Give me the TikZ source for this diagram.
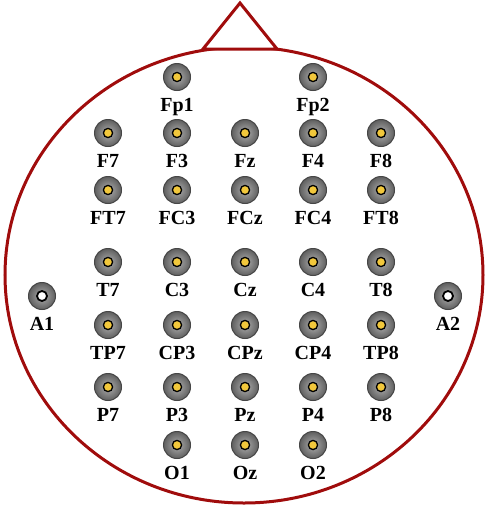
\documentclass[tikz,border=0pt]{standalone}
\usepackage{fontspec}
\setmainfont{Liberation Serif}
\definecolor{headred}{RGB}{160,12,12}
\definecolor{elecin}{RGB}{175,175,175}
\definecolor{elecout}{RGB}{95,95,95}
\definecolor{elecrim}{RGB}{70,70,70}
\definecolor{dotyellow}{RGB}{242,200,60}
\tikzset{
  electrode/.style={circle, minimum size=27pt, inner sep=0pt, draw=elecrim, line width=1pt,
    shading=radial, inner color=elecin, outer color=elecout,
    path picture={\fill[dotyellow, draw=black, line width=1.3pt] (path picture bounding box.center) circle (4.6pt);}},
  earelec/.style={circle, minimum size=27pt, inner sep=0pt, draw=elecrim, line width=1pt,
    shading=radial, inner color=elecin, outer color=elecout,
    path picture={\fill[white, draw=black, line width=1.8pt] (path picture bounding box.center) circle (5pt);}},
  lbl/.style={anchor=base, inner sep=0pt, font=\fontsize{20}{20}\selectfont\bfseries},
  headline/.style={draw=headred, line width=3pt}
}
\newcommand\elec[4]{\node[electrode] (#1) at (#2,#3) {}; \node[lbl] (#1-l) at (#2,#3+34.5) {#4};}
\begin{document}
\begin{tikzpicture}[x=1pt,y=-1pt]
\useasboundingbox (0,0) rectangle (490,509);
% head
\draw[headline] (244,275) ellipse [x radius=239, y radius=228];
\draw[headline, fill=white, line join=miter] (203,49) -- (240,3) -- (277,49) -- cycle;
% rows
\elec{Fp1}{177}{77}{Fp1}
\elec{Fp2}{313}{77}{Fp2}
\elec{F7}{108}{133}{F7}
\elec{F3}{177}{133}{F3}
\elec{Fz}{245}{133}{Fz}
\elec{F4}{313}{133}{F4}
\elec{F8}{381}{133}{F8}
\elec{FT7}{108}{190}{FT7}
\elec{FC3}{177}{190}{FC3}
\elec{FCz}{245}{190}{FCz}
\elec{FC4}{313}{190}{FC4}
\elec{FT8}{381}{190}{FT8}
\elec{T7}{108}{262}{T7}
\elec{C3}{177}{262}{C3}
\elec{Cz}{245}{262}{Cz}
\elec{C4}{313}{262}{C4}
\elec{T8}{381}{262}{T8}
\elec{TP7}{108}{325}{TP7}
\elec{CP3}{177}{325}{CP3}
\elec{CPz}{245}{325}{CPz}
\elec{CP4}{313}{325}{CP4}
\elec{TP8}{381}{325}{TP8}
\elec{P7}{108}{387}{P7}
\elec{P3}{177}{387}{P3}
\elec{Pz}{245}{387}{Pz}
\elec{P4}{313}{387}{P4}
\elec{P8}{381}{387}{P8}
\elec{O1}{177}{445}{O1}
\elec{Oz}{245}{445}{Oz}
\elec{O2}{313}{445}{O2}
% ear electrodes
\node[earelec] (A1) at (42,296) {};
\node[lbl] (A1-l) at (42,330.5) {A1};
\node[earelec] (A2) at (448,296) {};
\node[lbl] (A2-l) at (448,330.5) {A2};
\end{tikzpicture}
\end{document}
